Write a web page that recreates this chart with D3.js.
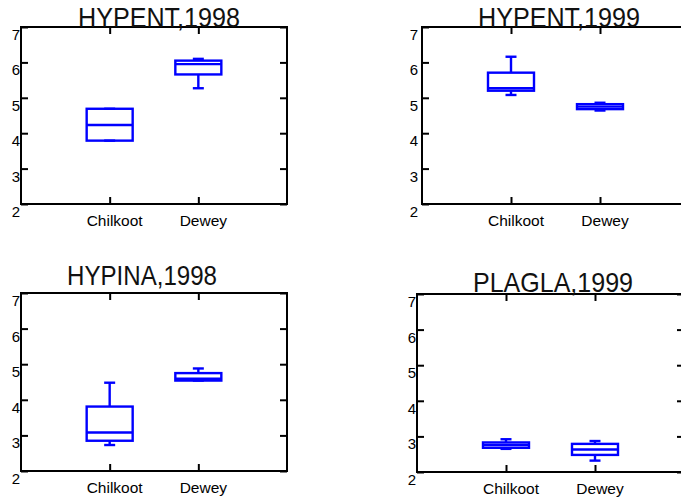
<!DOCTYPE html>
<html>
<head>
<meta charset="utf-8">
<script src="https://cdn.jsdelivr.net/npm/d3@7"></script>
<style>
  html, body { margin: 0; padding: 0; background: #fff; }
  svg { display: block; }
  text { font-family: "Liberation Sans", Arial, Helvetica, sans-serif; }
</style>
</head>
<body>
<svg id="chart" width="681" height="498"></svg>
<script>
// ---------- data ----------
const categories = ["Chilkoot", "Dewey"];
const panelTitles = ["HYPENT,1998", "HYPENT,1999", "HYPINA,1998", "PLAGLA,1999"];
const yTicks = [2, 3, 4, 5, 6, 7];
// per panel: [Chilkoot, Dewey]
const lowWhisker  = [[3.79, 5.27], [5.08, 4.64], [2.73, 4.54], [2.65, 2.32]];
const lowerQuart  = [[3.79, 5.66], [5.20, 4.68], [2.85, 4.54], [2.68, 2.48]];
const medianVal   = [[4.23, 5.95], [5.27, 4.75], [3.08, 4.59], [2.76, 2.63]];
const upperQuart  = [[4.69, 6.05], [5.71, 4.82], [3.81, 4.75], [2.83, 2.79]];
const highWhisker = [[4.69, 6.10], [6.16, 4.86], [4.48, 4.88], [2.92, 2.87]];

// ---------- layout ----------
const layout = [
  { left: 21,  right: 287, top: 27,  bottom: 204, titleX: 159, titleY: 27,  titleW: 162, labelGap: 1 },
  { left: 422, right: 689, top: 27,  bottom: 204, titleX: 559, titleY: 27,  titleW: 162, labelGap: 4 },
  { left: 21,  right: 287, top: 293, bottom: 471, titleX: 142, titleY: 285, titleW: 150, labelGap: 1 },
  { left: 417, right: 684, top: 294, bottom: 472, titleX: 553, titleY: 292, titleW: 160, labelGap: 1 }
];
const BLUE = "#0000ff";
const boxHalf = 23, capHalf = 5.5, tickLen = 7;

const svg = d3.select("#chart");

layout.forEach((L, p) => {
  const g = svg.append("g");
  const x = d3.scalePoint().domain(categories).range([L.left, L.right]).padding(1);
  const y = d3.scaleLinear().domain([2, 7]).range([L.bottom, L.top]);

  const styleAxis = sel => {
    sel.select(".domain").remove();
    sel.selectAll(".tick line").attr("stroke", "#000").attr("stroke-width", 2);
    sel.attr("font-family", null).attr("font-size", null);
  };

  // left axis
  const gl = g.append("g").attr("transform", `translate(${L.left},0)`)
    .call(d3.axisLeft(y).tickValues(yTicks).tickFormat(d3.format("d")).tickSize(-tickLen).tickSizeOuter(0).tickPadding(0));
  styleAxis(gl);
  gl.selectAll(".tick text")
    .attr("x", -L.labelGap).attr("y", 12.5).attr("dy", null)
    .attr("fill", "#000").style("font-size", "15px");

  // right axis (ticks only)
  const gr = g.append("g").attr("transform", `translate(${L.right},0)`)
    .call(d3.axisRight(y).tickValues(yTicks).tickFormat("").tickSize(-tickLen).tickSizeOuter(0));
  styleAxis(gr);

  // bottom axis
  const gb = g.append("g").attr("transform", `translate(0,${L.bottom})`)
    .call(d3.axisBottom(x).tickSize(-tickLen).tickSizeOuter(0).tickPadding(0));
  styleAxis(gb);
  gb.selectAll(".tick text")
    .attr("y", 22).attr("dy", null).attr("dx", 4.5)
    .attr("fill", "#000").style("font-size", "15.5px");

  // top axis (ticks only)
  const gt = g.append("g").attr("transform", `translate(0,${L.top})`)
    .call(d3.axisTop(x).tickFormat("").tickSize(-tickLen).tickSizeOuter(0));
  styleAxis(gt);

  // frame
  g.append("rect")
    .attr("x", L.left).attr("y", L.top)
    .attr("width", L.right - L.left).attr("height", L.bottom - L.top)
    .attr("fill", "none").attr("stroke", "#000").attr("stroke-width", 2);

  // boxes
  categories.forEach((c, i) => {
    const cx = x(c);
    const bg = g.append("g").attr("stroke", BLUE).attr("stroke-width", 2.4).attr("fill", "none");
    const lo = lowWhisker[p][i], q1 = lowerQuart[p][i], md = medianVal[p][i],
          q3 = upperQuart[p][i], hi = highWhisker[p][i];
    // whiskers
    bg.append("line").attr("x1", cx).attr("x2", cx).attr("y1", y(q3)).attr("y2", y(hi));
    bg.append("line").attr("x1", cx).attr("x2", cx).attr("y1", y(q1)).attr("y2", y(lo));
    bg.append("line").attr("x1", cx - capHalf).attr("x2", cx + capHalf).attr("y1", y(hi)).attr("y2", y(hi));
    bg.append("line").attr("x1", cx - capHalf).attr("x2", cx + capHalf).attr("y1", y(lo)).attr("y2", y(lo));
    // box
    bg.append("rect").attr("x", cx - boxHalf).attr("width", 2 * boxHalf)
      .attr("y", y(q3)).attr("height", y(q1) - y(q3));
    // median
    bg.append("line").attr("x1", cx - boxHalf).attr("x2", cx + boxHalf).attr("y1", y(md)).attr("y2", y(md));
  });

  // title
  g.append("text")
    .attr("x", L.titleX).attr("y", L.titleY)
    .attr("text-anchor", "middle")
    .attr("textLength", L.titleW).attr("lengthAdjust", "spacingAndGlyphs")
    .style("font-size", "28px").attr("fill", "#111")
    .text(panelTitles[p]);
});
</script>
</body>
</html>
